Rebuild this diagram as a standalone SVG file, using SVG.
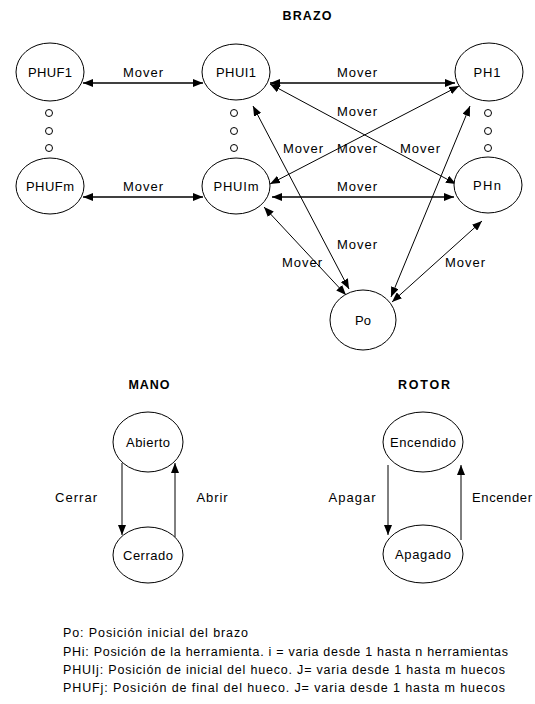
<svg xmlns="http://www.w3.org/2000/svg" width="535" height="704" viewBox="0 0 535 704">
<style>
text{font-family:"Liberation Sans",Arial,sans-serif;fill:#000}
.n{font-size:13px;text-anchor:middle}
.l{font-size:13px;text-anchor:middle}
.t{font-size:12.5px;font-weight:bold;text-anchor:middle}
.g{font-size:12.5px}
ellipse,circle{fill:#fff;stroke:#000;stroke-width:1}
.e{fill:none;stroke:#000;stroke-width:1.4}
.f{fill:none;stroke:#000;stroke-width:1}
</style>
<defs>
<marker id="a" viewBox="0 0 10 8" refX="10" refY="4" markerWidth="10" markerHeight="8" markerUnits="userSpaceOnUse" orient="auto-start-reverse"><path d="M0,0 L10,4 L0,8 z" fill="#000"/></marker>
</defs>
<text class="t" x="307" y="20" textLength="49">BRAZO</text>
<text class="t" x="149" y="389" textLength="41">MANO</text>
<text class="t" x="424" y="389" textLength="52">ROTOR</text>
<g id="connectors">
<line class="e" x1="83" y1="83" x2="203" y2="83" marker-start="url(#a)" marker-end="url(#a)"/>
<line class="e" x1="83" y1="197" x2="203" y2="197" marker-start="url(#a)" marker-end="url(#a)"/>
<line class="e" x1="270" y1="83" x2="455" y2="83" marker-start="url(#a)" marker-end="url(#a)"/>
<line class="e" x1="272" y1="197" x2="454" y2="197" marker-start="url(#a)" marker-end="url(#a)"/>
<line class="f" x1="270" y1="84" x2="456" y2="184" marker-start="url(#a)" marker-end="url(#a)"/>
<line class="f" x1="459" y1="86" x2="270" y2="184" marker-start="url(#a)" marker-end="url(#a)"/>
<line class="f" x1="253" y1="106" x2="349" y2="289" marker-start="url(#a)" marker-end="url(#a)"/>
<line class="f" x1="264" y1="207" x2="346" y2="295" marker-start="url(#a)" marker-end="url(#a)"/>
<line class="f" x1="470" y1="106" x2="391" y2="297" marker-start="url(#a)" marker-end="url(#a)"/>
<line class="f" x1="482" y1="221" x2="392" y2="302" marker-start="url(#a)" marker-end="url(#a)"/>
<line class="f" x1="122" y1="463" x2="122" y2="535" marker-end="url(#a)"/>
<line class="f" x1="175" y1="537" x2="175" y2="463" marker-end="url(#a)"/>
<line class="f" x1="388" y1="465" x2="388" y2="535" marker-end="url(#a)"/>
<line class="f" x1="461" y1="540" x2="461" y2="465" marker-end="url(#a)"/>
<text class="l" x="143" y="77" textLength="40">Mover</text>
<text class="l" x="143" y="191" textLength="40">Mover</text>
<text class="l" x="357" y="77" textLength="40">Mover</text>
<text class="l" x="357" y="116" textLength="40">Mover</text>
<text class="l" x="303" y="153" textLength="40">Mover</text>
<text class="l" x="357" y="153" textLength="40">Mover</text>
<text class="l" x="420" y="153" textLength="40">Mover</text>
<text class="l" x="357" y="191" textLength="40">Mover</text>
<text class="l" x="357" y="249" textLength="40">Mover</text>
<text class="l" x="302" y="267" textLength="40">Mover</text>
<text class="l" x="465" y="267" textLength="40">Mover</text>
<text class="l" x="76" y="502" textLength="42">Cerrar</text>
<text class="l" x="212" y="502" textLength="31">Abrir</text>
<text class="l" x="352" y="502" textLength="47">Apagar</text>
<text class="l" x="502" y="502" textLength="60">Encender</text>
</g>
<g id="dots">
<circle cx="49" cy="113" r="3.5"/><circle cx="49" cy="131" r="3.5"/><circle cx="49" cy="148" r="3.5"/>
<circle cx="234" cy="113" r="3.5"/><circle cx="234" cy="131" r="3.5"/><circle cx="234" cy="148" r="3.5"/>
<circle cx="488" cy="113" r="3.5"/><circle cx="488" cy="131" r="3.5"/><circle cx="488" cy="148" r="3.5"/>
</g>
<g id="PHUF1"><ellipse cx="50" cy="72" rx="34" ry="29"/><text class="n" x="50" y="77" textLength="44">PHUF1</text></g>
<g id="PHUI1"><ellipse cx="236" cy="72" rx="34" ry="28"/><text class="n" x="236" y="77" textLength="40">PHUI1</text></g>
<g id="PHUFm"><ellipse cx="50" cy="186" rx="34" ry="28"/><text class="n" x="50" y="191" textLength="48">PHUFm</text></g>
<g id="PHUIm"><ellipse cx="236" cy="186" rx="34" ry="28"/><text class="n" x="236" y="191" textLength="45">PHUIm</text></g>
<g id="PH1"><ellipse cx="489" cy="72" rx="34" ry="29"/><text class="n" x="487" y="77" textLength="27">PH1</text></g>
<g id="PHn"><ellipse cx="488" cy="185" rx="34" ry="28"/><text class="n" x="487" y="190" textLength="28">PHn</text></g>
<g id="Po"><ellipse cx="363" cy="320" rx="33" ry="30"/><text class="n" x="363" y="325">Po</text></g>
<g id="Abierto"><ellipse cx="148" cy="442" rx="35" ry="30"/><text class="n" x="148" y="447" textLength="44">Abierto</text></g>
<g id="Cerrado"><ellipse cx="148" cy="555" rx="35" ry="28"/><text class="n" x="148" y="560" textLength="50">Cerrado</text></g>
<g id="Encendido"><ellipse cx="423" cy="442" rx="40" ry="30"/><text class="n" x="423" y="447" textLength="66">Encendido</text></g>
<g id="Apagado"><ellipse cx="423" cy="554" rx="40" ry="29"/><text class="n" x="423" y="559" textLength="56">Apagado</text></g>
<g id="legend">
<text class="g" x="63" y="637" textLength="185">Po: Posición inicial del brazo</text>
<text class="g" x="63" y="656" textLength="445">PHi: Posición de la herramienta. i = varia desde 1 hasta n herramientas</text>
<text class="g" x="63" y="674" textLength="442">PHUIj: Posición de inicial del hueco. J= varia desde 1 hasta m huecos</text>
<text class="g" x="63" y="692" textLength="442">PHUFj: Posición de final del hueco. J= varia desde 1 hasta m huecos</text>
</g>
</svg>
